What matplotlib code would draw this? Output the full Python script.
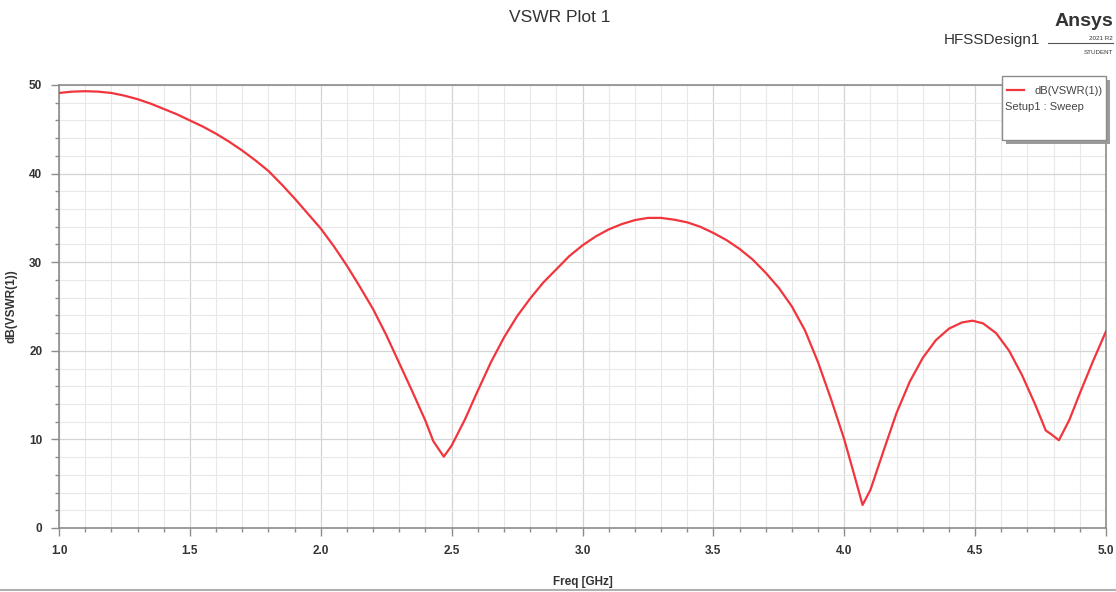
import matplotlib
matplotlib.use("Agg")
import matplotlib.pyplot as plt
from matplotlib.ticker import MultipleLocator
from matplotlib.patches import Rectangle
from matplotlib.lines import Line2D

freq_ghz = [1.00, 1.05, 1.10, 1.15, 1.20, 1.25, 1.30, 1.35, 1.40, 1.45, 1.50, 1.55, 1.60,
            1.65, 1.70, 1.75, 1.80, 1.85, 1.90, 1.95, 2.00, 2.05, 2.10, 2.15, 2.20, 2.25,
            2.30, 2.35, 2.40, 2.43, 2.47, 2.50, 2.55, 2.60, 2.65, 2.70, 2.75, 2.80, 2.85,
            2.90, 2.95, 3.00, 3.05, 3.10, 3.15, 3.20, 3.25, 3.30, 3.35, 3.40, 3.45, 3.50,
            3.55, 3.60, 3.65, 3.70, 3.75, 3.80, 3.85, 3.90, 3.95, 4.00, 4.04, 4.07, 4.10,
            4.15, 4.20, 4.25, 4.30, 4.35, 4.40, 4.45, 4.49, 4.53, 4.58, 4.63, 4.68, 4.73,
            4.77, 4.79, 4.82, 4.86, 4.90, 4.95, 5.00]
vswr_db = [49.1, 49.25, 49.3, 49.25, 49.1, 48.8, 48.4, 47.9, 47.3, 46.7, 46.0, 45.3, 44.5,
           43.6, 42.6, 41.5, 40.3, 38.8, 37.2, 35.5, 33.8, 31.8, 29.6, 27.2, 24.7, 21.8,
           18.6, 15.4, 12.1, 9.8, 8.05, 9.3, 12.2, 15.5, 18.7, 21.5, 23.9, 25.9, 27.7,
           29.2, 30.7, 31.9, 32.9, 33.7, 34.3, 34.75, 35.0, 35.0, 34.8, 34.5, 34.0, 33.3,
           32.5, 31.5, 30.3, 28.8, 27.1, 25.0, 22.3, 18.7, 14.5, 10.0, 5.8, 2.6, 4.3,
           8.7, 13.0, 16.5, 19.2, 21.2, 22.5, 23.2, 23.4, 23.1, 22.0, 20.0, 17.2, 13.9,
           11.0, 10.6, 9.9, 12.2, 15.2, 18.8, 22.2]

x_ticks = [1.0, 1.5, 2.0, 2.5, 3.0, 3.5, 4.0, 4.5, 5.0]
y_ticks = [0, 10, 20, 30, 40, 50]

plt.rcParams['font.family'] = ['Liberation Sans', 'DejaVu Sans']

fig = plt.figure(figsize=(11.16, 5.92), dpi=100)
ax = fig.add_axes([59/1116, 1-528/592, (1106-59)/1116, (528-85)/592])

ax.plot(freq_ghz, vswr_db, color='#f2353d', lw=1.6, solid_joinstyle='round', zorder=3)

ax.set_xlim(1.0, 5.0)
ax.set_ylim(0, 50)
ax.set_xticks(x_ticks)
ax.set_yticks(y_ticks)
ax.set_xticklabels([f"{t:.1f}" for t in x_ticks])
ax.set_yticklabels([str(t) for t in y_ticks])
ax.xaxis.set_minor_locator(MultipleLocator(0.1))
ax.yaxis.set_minor_locator(MultipleLocator(2))
ax.grid(which='major', color='#d4d4d4', lw=0.9)
ax.grid(which='minor', color='#e8e8e8', lw=0.8)
ax.set_axisbelow(True)
for s in ax.spines.values():
    s.set_color('#8c8c8c')
    s.set_linewidth(1.2)
ax.tick_params(which='major', direction='out', length=6, width=1, color='#8c8c8c',
               labelsize=8.5, labelcolor='#333333', pad=6)
ax.tick_params(which='minor', direction='out', length=3, width=1, color='#8c8c8c')
for lab in ax.get_xticklabels() + ax.get_yticklabels():
    lab.set_fontweight('bold')

ax.set_xlabel('Freq [GHz]', fontsize=8.5, fontweight='bold', color='#333333', labelpad=14)
ax.set_ylabel('dB(VSWR(1))', fontsize=8.5, fontweight='bold', color='#333333', labelpad=8)

fig.text(560/1116, 1-18/592, 'VSWR Plot 1', ha='center', va='center', fontsize=12.5, color='#333333')
fig.text(1040/1116, 1-40/592, 'HFSSDesign1', ha='right', va='center', fontsize=11, color='#333333')
fig.text(1113/1116, 1-21/592, 'Ansys', ha='right', va='center', fontsize=14, fontweight='bold', color='#333333')
fig.add_artist(Line2D([1048/1116, 1113/1116], [1-43/592, 1-43/592], color='#555555', lw=0.8))
fig.text(1113/1116, 1-38/592, '2021 R2', ha='right', va='center', fontsize=4.5, color='#333333')
fig.text(1113/1116, 1-53/592, 'STUDENT', ha='right', va='center', fontsize=4.5, color='#333333')

# legend box with shadow
lx0, ly0, lx1, ly1 = 1002, 76, 1106, 140
fig.add_artist(Rectangle(((lx0+4)/1116, 1-(ly1+4)/592), (lx1-lx0)/1116, (ly1-ly0)/592,
                         facecolor='#9a9a9a', edgecolor='none', zorder=5))
fig.add_artist(Rectangle((lx0/1116, 1-ly1/592), (lx1-lx0)/1116, (ly1-ly0)/592,
                         facecolor='white', edgecolor='#8c8c8c', lw=1, zorder=6))
fig.add_artist(Line2D([1007/1116, 1024/1116], [1-90/592, 1-90/592], color='#f2353d', lw=1.6, zorder=7))
fig.text(1103/1116, 1-91/592, 'dB(VSWR(1))', ha='right', va='center', fontsize=8, color='#444444', zorder=7)
fig.text(1005/1116, 1-107/592, 'Setup1 : Sweep', ha='left', va='center', fontsize=8, color='#444444', zorder=7)

fig.add_artist(Line2D([0, 1], [1-590/592, 1-590/592], color='#b0b0b0', lw=1.5))

fig.savefig('out.png', dpi=100)
